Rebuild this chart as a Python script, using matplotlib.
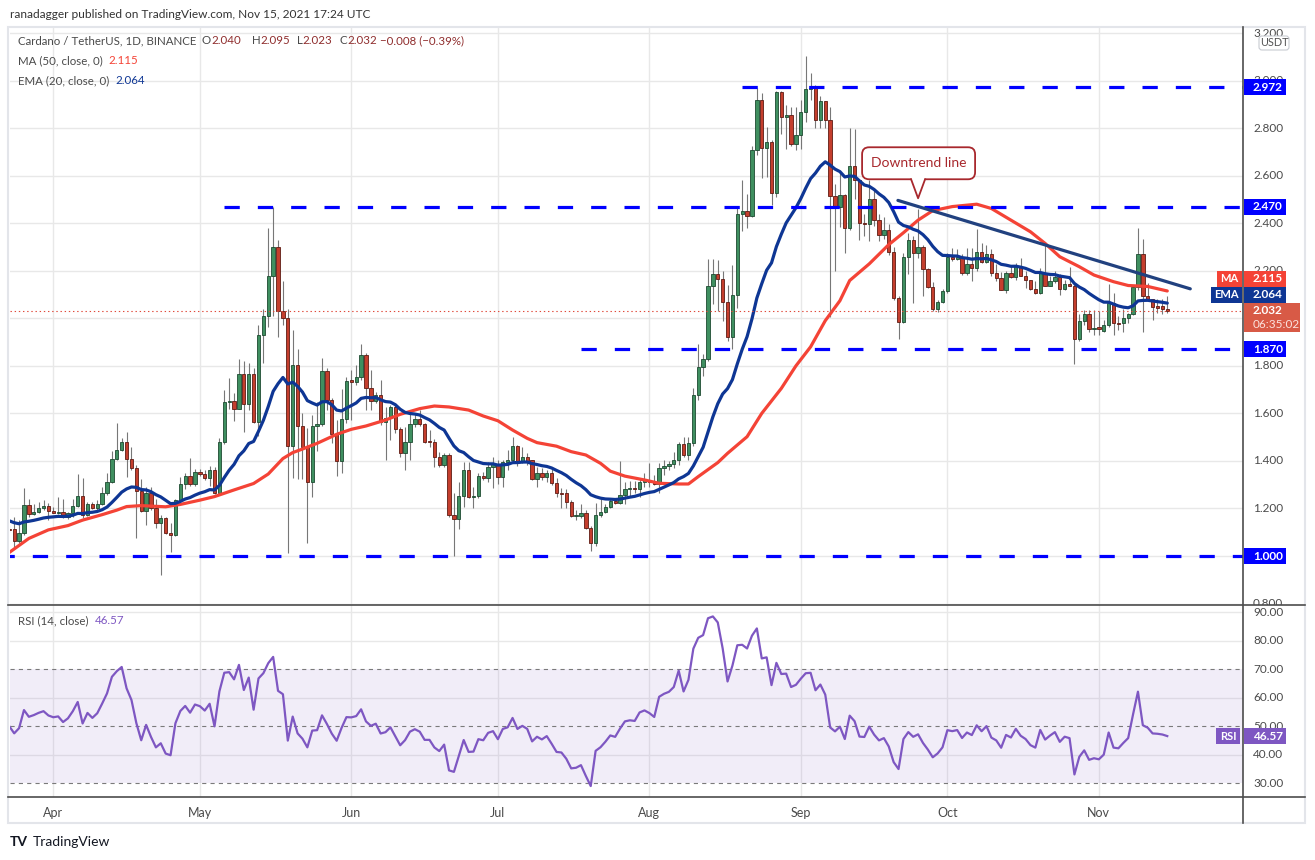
import numpy as np
import pandas as pd
import matplotlib
matplotlib.use("Agg")
import matplotlib.pyplot as plt
import matplotlib.dates as mdates
from matplotlib.patches import Rectangle, FancyBboxPatch, Polygon
from matplotlib.lines import Line2D
from matplotlib.transforms import Affine2D

# ---- daily candles, ADA/USDT (open, high, low, close) ----
ohlc_mar = [  # Mar 23 .. Mar 31
    (1.115, 1.130, 1.100, 1.110), (1.112, 1.165, 1.040, 1.064), (1.064, 1.151, 1.053, 1.095),
    (1.095, 1.285, 1.088, 1.214), (1.214, 1.240, 1.165, 1.175), (1.175, 1.219, 1.172, 1.186),
    (1.186, 1.228, 1.180, 1.200), (1.200, 1.235, 1.193, 1.210), (1.210, 1.224, 1.151, 1.190),
]
ohlc_apr = [
    (1.190, 1.205, 1.180, 1.182), (1.182, 1.247, 1.178, 1.186), (1.186, 1.240, 1.158, 1.163),
    (1.163, 1.186, 1.154, 1.179), (1.179, 1.238, 1.165, 1.210), (1.210, 1.345, 1.205, 1.252),
    (1.252, 1.330, 1.158, 1.172), (1.172, 1.228, 1.168, 1.219), (1.219, 1.228, 1.196, 1.200),
    (1.200, 1.235, 1.195, 1.220), (1.220, 1.290, 1.215, 1.263), (1.263, 1.348, 1.256, 1.313),
    (1.313, 1.440, 1.306, 1.410), (1.410, 1.558, 1.403, 1.448), (1.448, 1.495, 1.442, 1.478),
    (1.478, 1.520, 1.334, 1.410), (1.410, 1.457, 1.362, 1.369), (1.369, 1.383, 1.074, 1.275),
    (1.275, 1.322, 1.186, 1.190), (1.190, 1.290, 1.130, 1.263), (1.263, 1.290, 1.193, 1.200),
    (1.200, 1.238, 1.116, 1.140), (1.140, 1.172, 0.920, 1.158), (1.158, 1.165, 1.092, 1.098),
    (1.098, 1.140, 1.018, 1.088), (1.088, 1.238, 1.084, 1.235), (1.235, 1.333, 1.228, 1.305),
    (1.305, 1.350, 1.280, 1.336), (1.336, 1.413, 1.296, 1.305), (1.305, 1.368, 1.296, 1.352),
]
ohlc_may = [
    (1.352, 1.368, 1.338, 1.345), (1.345, 1.360, 1.320, 1.327), (1.327, 1.379, 1.295, 1.362),
    (1.362, 1.376, 1.260, 1.266), (1.266, 1.495, 1.263, 1.478), (1.478, 1.700, 1.471, 1.646),
    (1.646, 1.747, 1.617, 1.652), (1.652, 1.684, 1.570, 1.620), (1.620, 1.830, 1.617, 1.765),
    (1.765, 1.820, 1.520, 1.640), (1.640, 1.810, 1.614, 1.765), (1.765, 1.790, 1.558, 1.565),
    (1.565, 1.970, 1.505, 1.930), (1.930, 2.040, 1.810, 2.010), (2.010, 2.380, 1.965, 2.180),
    (2.180, 2.470, 2.010, 2.300), (2.300, 2.330, 1.920, 2.030), (2.030, 2.155, 1.970, 2.000),
    (2.000, 2.040, 1.011, 1.464), (1.464, 1.950, 1.327, 1.803), (1.803, 1.869, 1.324, 1.548),
    (1.548, 1.600, 1.322, 1.460), (1.460, 1.537, 1.053, 1.313), (1.313, 1.594, 1.250, 1.548),
    (1.548, 1.650, 1.440, 1.554), (1.554, 1.831, 1.545, 1.778), (1.778, 1.790, 1.614, 1.656),
    (1.656, 1.663, 1.474, 1.512), (1.512, 1.572, 1.338, 1.400), (1.400, 1.701, 1.348, 1.575),
    (1.575, 1.754, 1.558, 1.736),
]
ohlc_jun = [
    (1.740, 1.782, 1.572, 1.733), (1.733, 1.803, 1.718, 1.751), (1.751, 1.891, 1.740, 1.845),
    (1.845, 1.852, 1.614, 1.705), (1.705, 1.782, 1.614, 1.652), (1.652, 1.691, 1.642, 1.677),
    (1.677, 1.740, 1.551, 1.565), (1.565, 1.628, 1.404, 1.579), (1.579, 1.635, 1.488, 1.628),
    (1.628, 1.639, 1.516, 1.534), (1.534, 1.544, 1.418, 1.434), (1.434, 1.544, 1.362, 1.479),
    (1.479, 1.600, 1.404, 1.554), (1.554, 1.603, 1.544, 1.576), (1.576, 1.614, 1.548, 1.554),
    (1.554, 1.558, 1.476, 1.481), (1.483, 1.530, 1.460, 1.481), (1.481, 1.492, 1.376, 1.415),
    (1.415, 1.439, 1.376, 1.383), (1.383, 1.432, 1.376, 1.423), (1.423, 1.434, 1.166, 1.171),
    (1.171, 1.264, 1.000, 1.154), (1.154, 1.313, 1.112, 1.252), (1.252, 1.397, 1.208, 1.362),
    (1.362, 1.397, 1.245, 1.250), (1.250, 1.292, 1.200, 1.252), (1.252, 1.351, 1.243, 1.336),
    (1.336, 1.355, 1.319, 1.327), (1.327, 1.394, 1.312, 1.376), (1.376, 1.418, 1.286, 1.387),
]
ohlc_jul = [
    (1.387, 1.404, 1.304, 1.331), (1.331, 1.404, 1.289, 1.394), (1.394, 1.446, 1.362, 1.404),
    (1.404, 1.499, 1.397, 1.462), (1.462, 1.466, 1.380, 1.397), (1.397, 1.460, 1.390, 1.415),
    (1.415, 1.432, 1.383, 1.398), (1.404, 1.406, 1.319, 1.325), (1.325, 1.376, 1.289, 1.348),
    (1.348, 1.369, 1.319, 1.333), (1.333, 1.362, 1.313, 1.348), (1.348, 1.369, 1.298, 1.308),
    (1.308, 1.327, 1.249, 1.263), (1.263, 1.288, 1.200, 1.260), (1.263, 1.284, 1.200, 1.226),
    (1.226, 1.236, 1.165, 1.170), (1.170, 1.193, 1.151, 1.172), (1.168, 1.218, 1.162, 1.180),
    (1.180, 1.192, 1.112, 1.119), (1.119, 1.126, 1.022, 1.053), (1.053, 1.221, 1.042, 1.172),
    (1.172, 1.239, 1.165, 1.186), (1.186, 1.218, 1.179, 1.207), (1.205, 1.246, 1.200, 1.231),
    (1.231, 1.243, 1.218, 1.225), (1.225, 1.400, 1.218, 1.255), (1.255, 1.313, 1.218, 1.282),
    (1.282, 1.317, 1.249, 1.286), (1.286, 1.317, 1.264, 1.284), (1.284, 1.327, 1.249, 1.313),
    (1.313, 1.348, 1.292, 1.320),
]
ohlc_aug = [
    (1.320, 1.390, 1.292, 1.313), (1.313, 1.341, 1.298, 1.303), (1.303, 1.390, 1.264, 1.369),
    (1.369, 1.404, 1.341, 1.380), (1.380, 1.401, 1.362, 1.387), (1.387, 1.439, 1.369, 1.404),
    (1.404, 1.481, 1.383, 1.471), (1.471, 1.499, 1.418, 1.425), (1.425, 1.502, 1.404, 1.474),
    (1.474, 1.705, 1.462, 1.677), (1.677, 1.891, 1.655, 1.794), (1.794, 1.850, 1.758, 1.828),
    (1.828, 2.250, 1.821, 2.138), (2.138, 2.250, 2.059, 2.187), (2.187, 2.247, 2.031, 2.166),
    (2.166, 2.201, 1.989, 2.070), (2.070, 2.140, 1.905, 1.920), (1.920, 2.225, 1.870, 2.100),
    (2.100, 2.465, 2.044, 2.440), (2.440, 2.580, 2.367, 2.450), (2.450, 2.525, 2.382, 2.430),
    (2.430, 2.724, 2.425, 2.707), (2.707, 2.970, 2.686, 2.918), (2.918, 2.949, 2.591, 2.718),
    (2.718, 2.804, 2.594, 2.740), (2.740, 2.750, 2.475, 2.528), (2.528, 2.957, 2.510, 2.950),
    (2.950, 2.957, 2.777, 2.848), (2.848, 2.897, 2.714, 2.855), (2.855, 2.887, 2.724, 2.735),
    (2.735, 2.887, 2.707, 2.770),
]
ohlc_sep = [
    (2.770, 2.919, 2.714, 2.870), (2.870, 3.105, 2.827, 2.963), (2.963, 3.030, 2.919, 2.970),
    (2.970, 2.982, 2.800, 2.833), (2.833, 2.935, 2.800, 2.914), (2.914, 2.914, 2.800, 2.833),
    (2.833, 2.889, 2.004, 2.513), (2.513, 2.567, 2.200, 2.468), (2.468, 2.617, 2.385, 2.517),
    (2.517, 2.521, 2.273, 2.380), (2.380, 2.800, 2.370, 2.640), (2.640, 2.797, 2.500, 2.580),
    (2.580, 2.587, 2.329, 2.400), (2.400, 2.440, 2.346, 2.395), (2.395, 2.580, 2.325, 2.503),
    (2.503, 2.545, 2.387, 2.415), (2.415, 2.440, 2.325, 2.349), (2.349, 2.426, 2.335, 2.370),
    (2.370, 2.398, 2.266, 2.278), (2.278, 2.300, 2.077, 2.084), (2.084, 2.095, 1.913, 1.986),
    (1.986, 2.275, 1.979, 2.257), (2.257, 2.360, 2.185, 2.330), (2.330, 2.345, 2.064, 2.276),
    (2.276, 2.460, 2.253, 2.300), (2.300, 2.310, 2.094, 2.206), (2.206, 2.210, 2.126, 2.130),
    (2.130, 2.154, 2.032, 2.038), (2.038, 2.077, 2.028, 2.068), (2.068, 2.123, 2.064, 2.115),
]
ohlc_oct = [
    (2.115, 2.275, 2.108, 2.257), (2.257, 2.297, 2.242, 2.248), (2.248, 2.293, 2.246, 2.257),
    (2.257, 2.271, 2.183, 2.190), (2.190, 2.297, 2.183, 2.230), (2.230, 2.297, 2.155, 2.210),
    (2.210, 2.375, 2.201, 2.278), (2.278, 2.315, 2.232, 2.236), (2.236, 2.308, 2.232, 2.270),
    (2.270, 2.290, 2.176, 2.190), (2.190, 2.229, 2.155, 2.170), (2.170, 2.193, 2.117, 2.117),
    (2.117, 2.197, 2.106, 2.190), (2.190, 2.218, 2.168, 2.173), (2.173, 2.232, 2.162, 2.222),
    (2.222, 2.253, 2.176, 2.180), (2.180, 2.197, 2.127, 2.160), (2.160, 2.162, 2.117, 2.123),
    (2.123, 2.158, 2.102, 2.108), (2.108, 2.210, 2.102, 2.192), (2.192, 2.315, 2.134, 2.138),
    (2.138, 2.176, 2.134, 2.157), (2.157, 2.197, 2.148, 2.173), (2.173, 2.187, 2.096, 2.123),
    (2.123, 2.162, 2.120, 2.145), (2.145, 2.215, 2.134, 2.138), (2.138, 2.148, 1.808, 1.912),
    (1.912, 2.018, 1.906, 1.989), (1.989, 2.033, 1.972, 2.019), (2.019, 2.036, 1.944, 1.954),
    (1.954, 2.036, 1.930, 1.961),
]
ohlc_nov = [
    (1.965, 2.029, 1.930, 1.954), (1.948, 1.993, 1.944, 1.972), (1.972, 2.143, 1.965, 2.066),
    (2.066, 2.108, 1.930, 1.982), (1.982, 2.011, 1.951, 1.978), (1.980, 2.041, 1.944, 2.000),
    (2.000, 2.024, 1.982, 2.020), (2.020, 2.134, 2.013, 2.130), (2.130, 2.378, 2.120, 2.269),
    (2.269, 2.333, 1.944, 2.095), (2.095, 2.148, 2.078, 2.080), (2.080, 2.083, 1.991, 2.046),
    (2.050, 2.083, 2.024, 2.044), (2.050, 2.083, 2.018, 2.040), (2.040, 2.095, 2.023, 2.032),
]

# 50-day MA (days after Apr 1, value)
ma50_days = [-9, -5, -1, 3, 6, 10, 13, 15, 18, 23, 26, 30, 33, 37, 41, 44, 47, 49, 51, 54,
             58, 61, 64, 68, 71, 75, 78, 81, 85, 88, 91, 94, 97, 99, 103, 106, 109, 112, 114,
             117, 121, 124, 128, 130, 132, 136, 138, 142, 145, 149, 152, 155, 158, 161, 163,
             167, 171, 174, 177, 180, 184, 189, 192, 196, 200, 203, 206, 210, 213, 217, 220,
             224, 228]
ma50_vals = [1.015, 1.074, 1.110, 1.128, 1.151, 1.174, 1.193, 1.208, 1.212, 1.207, 1.217, 1.235,
             1.250, 1.278, 1.305, 1.345, 1.410, 1.435, 1.450, 1.474, 1.512, 1.533, 1.547, 1.572,
             1.596, 1.620, 1.631, 1.627, 1.614, 1.589, 1.569, 1.530, 1.495, 1.477, 1.462, 1.439,
             1.425, 1.390, 1.357, 1.336, 1.320, 1.306, 1.303, 1.303, 1.334, 1.393, 1.432, 1.502,
             1.600, 1.705, 1.800, 1.880, 1.990, 2.074, 2.159, 2.229, 2.310, 2.360, 2.413, 2.453,
             2.470, 2.480, 2.462, 2.413, 2.364, 2.315, 2.259, 2.217, 2.182, 2.154, 2.138, 2.134,
             2.115]
ema_seed = 1.148          # EMA(20) value at the first candle
rsi_seed = 0.034          # average gain / loss before the first candle

level_prices = [2.972, 2.470, 1.870, 1.000]
level_starts = ["2021-08-20", "2021-05-06", "2021-07-18", "2021-03-01"]
trend_dates = ["2021-09-20 21:00", "2021-11-19 17:00"]
trend_prices = [2.496, 2.124]
note_date, note_price = "2021-09-25", 2.505

months = ["Apr", "May", "Jun", "Jul", "Aug", "Sep", "Oct", "Nov"]

# ---- prepare ----
ohlc = np.array(ohlc_mar + ohlc_apr + ohlc_may + ohlc_jun + ohlc_jul + ohlc_aug
                + ohlc_sep + ohlc_oct + ohlc_nov)
dates = pd.date_range("2021-03-23", periods=len(ohlc), freq="D")
o, h, l, c = ohlc.T
x = mdates.date2num(dates)
apr1 = mdates.date2num(pd.Timestamp("2021-04-01"))

ema = [ema_seed]
for v in c[1:]:
    ema.append(ema[-1] + 2 / 21 * (v - ema[-1]))
ema = np.array(ema)

ag = al = rsi_seed
rsi = [50.0]
for i in range(1, len(c)):
    ch = c[i] - c[i - 1]
    ag = (ag * 13 + max(ch, 0)) / 14
    al = (al * 13 + max(-ch, 0)) / 14
    rsi.append(100 * ag / (ag + al))
rsi = np.array(rsi)

# ---- figure ----
W, H = 1315, 860
plt.rcParams["font.family"] = ["Lato", "DejaVu Sans"]
plt.rcParams["lines.scale_dashes"] = False
fig = plt.figure(figsize=(W / 100, H / 100), dpi=100)
pix = Affine2D().scale(1 / W, -1 / H).translate(0, 1) + fig.transFigure

GRID = "#e8e8e8"
TXT = "#4a4a4a"
UP, UP_E = "#3f8f60", "#1d4a31"
DN, DN_E = "#c43e2d", "#5e1b13"
MA_C, EMA_C = "#f44336", "#0e3694"
RSI_C = "#7e57c2"

ax = fig.add_axes([10 / W, 1 - 605 / H, 1233 / W, 578 / H])
rx = fig.add_axes([10 / W, 1 - 797 / H, 1233 / W, 192 / H], sharex=ax)
for a in (ax, rx):
    a.set_facecolor("none")
    for s in a.spines.values():
        s.set_visible(False)
    a.tick_params(length=0)
    a.set_yticks([])

ax.set_xlim(apr1 - 8.86, apr1 + 243.5)
ax.set_ylim(0.7939, 3.2255)
rx.set_ylim(25.19, 92.56)

month_x = mdates.date2num(pd.date_range("2021-04-01", periods=8, freq="MS"))
for mx in month_x:
    ax.axvline(mx, color=GRID, lw=1, zorder=0)
    rx.axvline(mx, color=GRID, lw=1, zorder=0)
for v in np.arange(0.8, 3.21, 0.2):
    ax.axhline(v, color=GRID, lw=1, zorder=0)
for v in (40, 60, 80, 90):
    rx.axhline(v, color=GRID, lw=1, zorder=0)

ax.tick_params(labelbottom=False)
rx.set_xticks(month_x)
rx.set_xticklabels(months, fontsize=9, color=TXT)
rx.tick_params(axis="x", pad=7)

# candles
up = c >= o
bot = np.minimum(o, c)
ht = np.maximum(np.abs(c - o), 0.004)
ax.vlines(x, l, h, color="#777777", lw=0.8, zorder=2)
ax.bar(x[up], ht[up], bottom=bot[up], width=0.68, color=UP, edgecolor=UP_E, lw=0.6, zorder=3)
ax.bar(x[~up], ht[~up], bottom=bot[~up], width=0.68, color=DN, edgecolor=DN_E, lw=0.6, zorder=3)

# moving averages
ax.plot(apr1 + np.array(ma50_days), ma50_vals, color=MA_C, lw=2.3, zorder=4, solid_capstyle="round")
ax.plot(x, ema, color=EMA_C, lw=2.3, zorder=4, solid_capstyle="round")

# support / resistance levels and trendline
for p, s in zip(level_prices, level_starts):
    ax.plot([mdates.date2num(pd.Timestamp(s)), apr1 + 243.5], [p, p], color="#0000ff",
            lw=2.3, ls=(0, (11, 13)), zorder=5, dash_capstyle="butt")
ax.plot(mdates.date2num(pd.to_datetime(trend_dates)), trend_prices, color="#21417f",
        lw=2.3, zorder=5, solid_capstyle="round")
ax.axhline(c[-1], color="#e04b3c", lw=0.8, ls=(0, (1, 2)), zorder=4)

# RSI pane
rx.axhspan(30, 70, color=RSI_C, alpha=0.1, lw=0, zorder=0)
for v in (30, 50, 70):
    rx.axhline(v, color="#7a7a7a", lw=0.8, ls=(0, (3, 3)), zorder=1)
rx.plot(x, rsi, color=RSI_C, lw=1.6, zorder=3)


# ---- helpers in image pixels ----
def ypx(axis, v):
    return H - axis.transData.transform((axis.get_xlim()[0], v))[1]


def xpx(axis, d):
    return axis.transData.transform((d, axis.get_ylim()[0]))[0]


def put(xp, yp, s, color=TXT, size=8.6, z=3, **kw):
    return fig.text(xp / W, 1 - yp / H, s, color=color, fontsize=size, va="center",
                    zorder=z, **kw)


def seq(xp, yp, pieces, size=8.3):
    r = fig.canvas.get_renderer()
    for s, col in pieces:
        t = put(xp, yp, s, col, size)
        xp += t.get_window_extent(renderer=r).width


tags = []


def box(x0, y0, x1, y1, fc, z=2.5):
    tags.append((y0, y1))
    fig.add_artist(Rectangle((x0, y0), x1 - x0, y1 - y0, transform=pix, fc=fc, ec="none",
                             zorder=z))


def covered(yp):
    # scale label fully hidden behind a coloured tag
    return any(y0 + 4 < yp < y1 - 4 for y0, y1 in tags)


# frame
fig.add_artist(Rectangle((8, 27), 1297, 796, transform=pix, fc="none", ec="#e3e5ea", lw=1.5))
for seg in [((8, 605), (1305, 605)), ((8, 797), (1305, 797)), ((1243, 27), (1243, 823))]:
    fig.add_artist(Line2D([seg[0][0], seg[1][0]], [seg[0][1], seg[1][1]], transform=pix,
                          color="#4d4d4d", lw=1.2, zorder=2.6))

# price-scale tags
for p in level_prices:
    yp = ypx(ax, p)
    box(1244, yp - 8, 1286, yp + 8, "#0000ff")
    put(1253, yp, f"{p:.3f}", "white", 8.5, weight="bold")

cur_y = ypx(ax, c[-1])
box(1244, cur_y - 8, 1300, cur_y + 21, "#d85a46")
put(1253, cur_y, f"{c[-1]:.3f}", "white", 8.5, weight="bold")
put(1253, cur_y + 14, "06:35:02", "#fbe3de", 8.5)
ema_y, ma_y = cur_y - 16, cur_y - 32      # tags stacked above the price tag
box(1244, ema_y - 8, 1286, ema_y + 8, EMA_C)
put(1253, ema_y, f"{ema[-1]:.3f}", "white", 8.5, weight="bold")
box(1211, ema_y - 8, 1242, ema_y + 8, EMA_C)
put(1226.5, ema_y, "EMA", "white", 8, weight="bold", ha="center")
box(1244, ma_y - 8, 1286, ma_y + 8, MA_C)
put(1253, ma_y, f"{ma50_vals[-1]:.3f}", "white", 8.5, weight="bold")
box(1217, ma_y - 8, 1242, ma_y + 8, MA_C)
put(1229.5, ma_y, "MA", "white", 8, weight="bold", ha="center")
fig.add_artist(FancyBboxPatch((1259, 36), 30, 14, boxstyle="round,pad=0,rounding_size=3",
                              transform=pix, fc="white", ec="#c8cbd2", lw=0.8, zorder=2.5))
put(1274, 43, "USDT", "#555555", 7.8, ha="center")

# price scale labels (under the tags)
for v in np.arange(0.8, 3.21, 0.2):
    yp = ypx(ax, v)
    if covered(yp):
        continue
    t = put(1253, yp, f"{v:.3f}", size=8.5, z=2)
    if yp > 598:
        t.set_clip_on(True)
        t.set_clip_path(Rectangle((1244, 27), 70, 577.5, transform=pix))

# RSI scale
ry = ypx(rx, rsi[-1])
box(1244, ry - 8, 1286, ry + 8, RSI_C)
put(1253, ry, f"{rsi[-1]:.2f}", "white", 8.5, weight="bold")
box(1216, ry - 8, 1240, ry + 8, RSI_C)
put(1228, ry, "RSI", "white", 8, weight="bold", ha="center")
for v in range(30, 91, 10):
    yp = ypx(rx, v)
    if not covered(yp):
        put(1253, yp, f"{v:.2f}", size=8.5, z=2)

# annotation
tx, ty = xpx(ax, mdates.date2num(pd.Timestamp(note_date))), ypx(ax, note_price)
bx0, bx1, by0, by1 = tx - 56, tx + 57, ty - 51, ty - 19
NOTE = "#a8282d"
fig.add_artist(FancyBboxPatch((bx0, by0), bx1 - bx0, by1 - by0,
                              boxstyle="round,pad=0,rounding_size=7", transform=pix,
                              fc="white", ec=NOTE, lw=1.3, zorder=6))
fig.add_artist(Polygon([(tx - 7, by1 - 2), (tx, ty), (tx + 7, by1 - 2)], closed=True,
                       transform=pix, fc="white", ec="none", zorder=6.5))
fig.add_artist(Line2D([tx - 7, tx, tx + 7], [by1, ty, by1], transform=pix, color=NOTE,
                      lw=1.3, zorder=7))
put((bx0 + bx1) / 2, (by0 + by1) / 2, "Downtrend line", NOTE, 10, z=8, ha="center")

# header and legends
put(10, 14, "ranadagger published on TradingView.com, Nov 15, 2021 17:24 UTC", "#333333", 8.6)
VAL = "#8f2d2d"
seq(18, 41, [("Cardano / TetherUS, 1D, BINANCE", TXT)])
for xp, k, v in [(202, "O", o[-1]), (252, "H", h[-1]), (297, "L", l[-1]), (340, "C", c[-1])]:
    seq(xp, 41, [(k, TXT), (f"{v:.3f}", VAL)])
chg = c[-1] - c[-2]
seq(380, 41, [(f"{chg:+.3f} ({chg / c[-2] * 100:+.2f}%)".replace("-", "\u2212"), VAL)])
seq(18, 61, [("MA (50, close, 0)  ", TXT), (f"{ma50_vals[-1]:.3f}", MA_C)])
seq(18, 81, [("EMA (20, close, 0)  ", TXT), (f"{ema[-1]:.3f}", EMA_C)])
seq(18, 621, [("RSI (14, close)  ", TXT), (f"{rsi[-1]:.2f}", RSI_C)])

# logo
put(10, 842, "TV", "#131722", 10, weight="bold")
put(33, 842, "TradingView", "#131722", 10)

fig.savefig("out.png", dpi=100, facecolor="white")
